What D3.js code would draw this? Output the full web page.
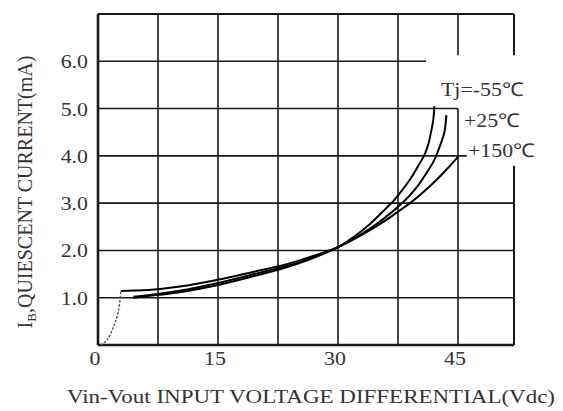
<!DOCTYPE html>
<html>
<head>
<meta charset="utf-8">
<script src="https://cdn.jsdelivr.net/npm/d3@7"></script>
<style>
  html, body { margin: 0; padding: 0; background: #fff; }
  svg { display: block; }
  text { font-family: "Liberation Serif", "Times New Roman", serif; fill: #333; }
</style>
</head>
<body>
<svg id="chart" width="563" height="411"></svg>
<script>
// Quiescent current vs. input-output voltage differential, three junction temperatures
const xTicks = [0, 15, 30, 45];
const yTicks = [1.0, 2.0, 3.0, 4.0, 5.0, 6.0];
const xGrid = [7.5, 15, 22.5, 30, 37.5, 45];

const seriesNames = ["Tj=-55\u2103", "+25\u2103", "+150\u2103"];

const vM55 = [4.45, 7.5, 10, 15, 20, 22.5, 25, 30, 32, 34, 36, 37, 38, 39, 40, 40.75, 41.3, 41.6, 41.9, 42.05];
const iM55 = [1.00, 1.06, 1.11, 1.27, 1.48, 1.59, 1.72, 2.07, 2.29, 2.56, 2.89, 3.06, 3.27, 3.50, 3.78, 4.00, 4.25, 4.48, 4.75, 5.05];

const vP25 = [4.45, 7.5, 10, 15, 20, 22.5, 25, 30, 32, 34, 36, 38, 39, 40, 41, 42, 42.5, 43, 43.3, 43.45, 43.55];
const iP25 = [1.02, 1.08, 1.14, 1.31, 1.52, 1.62, 1.74, 2.07, 2.25, 2.46, 2.71, 3.00, 3.17, 3.37, 3.62, 3.90, 4.10, 4.33, 4.50, 4.68, 4.86];

const vP150 = [2.85, 4.5, 7.5, 10, 15, 20, 22.5, 25, 30, 32, 34, 36, 38, 39, 40.5, 42.3, 43.5, 45];
const iP150 = [1.14, 1.15, 1.18, 1.23, 1.38, 1.57, 1.66, 1.78, 2.07, 2.24, 2.43, 2.64, 2.88, 3.00, 3.21, 3.49, 3.70, 3.98];

// start-up region below dropout (dashed)
const vStart = [0.3, 1.1, 1.95, 2.58, 2.85];
const iStart = [0.0, 0.10, 0.39, 0.74, 1.14];

const svg = d3.select("#chart");

const x = d3.scaleLinear().domain([0, 52]).range([98, 514]);
const y = d3.scaleLinear().domain([0, 7]).range([345, 14]);

const X0 = 0, X1 = 52, Y0 = 0, Y1 = 7;
const ink = "#1a1a1a";

// grid segments; a few are cut short to leave room for the temperature labels
const hSpan = { 6: [0, 41], 5: [0, 45], 4: [0, 46.1] };
const grid = svg.append("g").attr("stroke", ink).attr("stroke-width", 1.6).attr("fill", "none");

yTicks.forEach(v => {
  const s = hSpan[v] || [X0, X1];
  grid.append("line").attr("x1", x(s[0])).attr("x2", x(s[1])).attr("y1", y(v)).attr("y2", y(v));
});
xGrid.forEach(v => {
  const segs = v === 45 ? [[Y0, 5.0], [6.13, Y1]] : [[Y0, Y1]];
  segs.forEach(s => grid.append("line")
    .attr("x1", x(v)).attr("x2", x(v)).attr("y1", y(s[0])).attr("y2", y(s[1])));
});

// frame
const frame = svg.append("g").attr("stroke", ink).attr("fill", "none");
frame.append("line").attr("x1", x(X0)).attr("x2", x(X1)).attr("y1", y(Y1)).attr("y2", y(Y1)).attr("stroke-width", 2);
frame.append("line").attr("x1", x(X0)).attr("x2", x(X1)).attr("y1", y(Y0)).attr("y2", y(Y0)).attr("stroke-width", 2.6);
frame.append("line").attr("x1", x(X0)).attr("x2", x(X0)).attr("y1", y(Y0)).attr("y2", y(Y1)).attr("stroke-width", 2.6);
[[Y0, 3.79], [6.13, Y1]].forEach(s => frame.append("line")
  .attr("x1", x(X1)).attr("x2", x(X1)).attr("y1", y(s[0])).attr("y2", y(s[1])).attr("stroke-width", 2));

// curves
const line = d3.line().x(d => x(d[0])).y(d => y(d[1])).curve(d3.curveCatmullRom.alpha(0.5));
const zip = (a, b) => a.map((v, i) => [v, b[i]]);

svg.append("path").datum(zip(vStart, iStart)).attr("d", line)
  .attr("fill", "none").attr("stroke", "#555").attr("stroke-width", 1.4).attr("stroke-dasharray", "2.5,1.5");

[[vM55, iM55], [vP25, iP25], [vP150, iP150]].forEach(([v, i]) => {
  svg.append("path").datum(zip(v, i)).attr("d", line)
    .attr("fill", "none").attr("stroke", "#000").attr("stroke-width", 2);
});

// text helper: slightly widened serif lettering
function label(px, py, str, anchor, stretch) {
  return svg.append("text")
    .attr("transform", `translate(${px},${py}) scale(${stretch || 1.15},1)`)
    .attr("text-anchor", anchor || "start")
    .attr("font-size", 19)
    .text(str);
}

// tick labels
yTicks.forEach(v => label(88, y(v) + 7, d3.format(".1f")(v), "end"));
xTicks.forEach(v => label(x(v) - 3, 365, String(v), "middle"));

// series labels
label(441, 96, seriesNames[0]);
label(464, 127, seriesNames[1]);
label(468, 157, seriesNames[2]);

// axis titles
label(311, 403, "Vin-Vout INPUT VOLTAGE DIFFERENTIAL(Vdc)", "middle", 1.21);

const yt = svg.append("text")
  .attr("transform", "translate(32,192) rotate(-90)")
  .attr("text-anchor", "middle")
  .attr("font-size", 20);
yt.append("tspan").text("I");
yt.append("tspan").attr("font-size", 13).attr("dy", 4).text("B");
yt.append("tspan").attr("dy", -4).text(",QUIESCENT CURRENT(mA)");
</script>
</body>
</html>
